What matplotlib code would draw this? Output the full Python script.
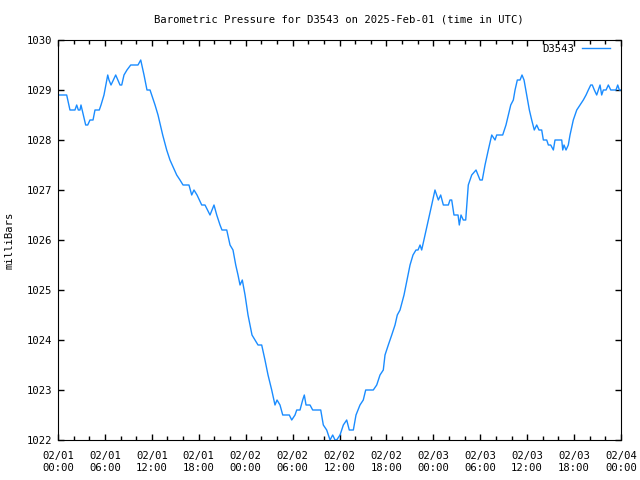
import datetime as dt
import matplotlib
matplotlib.use('Agg')
import matplotlib.pyplot as plt
from matplotlib.ticker import FuncFormatter, MultipleLocator

# hours since 2025-02-01 00:00 UTC, pressure in mbar
hours = [0, 1.11, 1.53, 2.17, 2.39, 2.6, 2.81, 2.94, 3.54, 3.8, 4.09, 4.48, 4.73, 5.28,
         5.5, 5.88, 6.23, 6.36, 6.52, 6.78, 7.38, 7.93, 8.15, 8.44, 8.82, 9.3, 10.23,
         10.58, 11.0, 11.38, 11.77, 12.41, 12.79, 13.39, 13.9, 14.32, 15.18, 15.6,
         15.99, 16.75, 17.1, 17.39, 17.78, 18.38, 18.8, 19.44, 19.95, 20.3, 20.72,
         20.97, 21.58, 22.0, 22.38, 22.73, 23.02, 23.28, 23.57, 23.92, 24.3, 24.56,
         24.81, 25.19, 25.58, 26.05, 26.47, 26.86, 27.33, 27.75, 28.01, 28.39, 28.74,
         29.58, 29.89, 30.31, 30.53, 30.95, 31.29, 31.5, 31.72, 32.23, 32.57, 33.6,
         33.93, 34.36, 34.79, 35.13, 35.43, 35.64, 36.07, 36.49, 36.92, 37.25, 37.77,
         38.11, 38.62, 39.04, 39.35, 40.32, 40.76, 41.18, 41.6, 41.82, 42.24, 42.68,
         43.1, 43.39, 43.74, 44.25, 44.63, 45.02, 45.4, 45.78, 46.04, 46.3, 46.51,
         46.94, 47.36, 47.79, 48.21, 48.64, 48.94, 49.28, 49.92, 50.13, 50.35, 50.64,
         50.99, 51.16, 51.32, 51.54, 51.83, 52.14, 52.47, 52.91, 53.46, 53.97, 54.26,
         54.61, 55.03, 55.47, 55.89, 56.1, 56.53, 56.87, 57.29, 57.59, 57.9, 58.23,
         58.45, 58.74, 59.09, 59.34, 59.6, 59.94, 60.28, 60.58, 60.91, 61.22, 61.51,
         61.86, 62.07, 62.5, 62.71, 63.01, 63.35, 63.56, 64.42, 64.55, 64.71, 64.97,
         65.26, 65.48, 65.9, 66.34, 66.76, 67.18, 67.53, 67.82, 68.13, 68.33, 68.59,
         68.89, 69.1, 69.32, 69.53, 69.74, 70.09, 70.38, 70.69, 71.36, 71.58, 71.79, 72.0]
pressure = [1028.9, 1028.9, 1028.6, 1028.6, 1028.7, 1028.6, 1028.6, 1028.7, 1028.3, 1028.3,
            1028.4, 1028.4, 1028.6, 1028.6, 1028.7, 1028.9, 1029.2, 1029.3, 1029.2, 1029.1,
            1029.3, 1029.1, 1029.1, 1029.3, 1029.4, 1029.5, 1029.5, 1029.6, 1029.3, 1029.0,
            1029.0, 1028.7, 1028.5, 1028.1, 1027.8, 1027.6, 1027.3, 1027.2, 1027.1, 1027.1,
            1026.9, 1027.0, 1026.9, 1026.7, 1026.7, 1026.5, 1026.7, 1026.5, 1026.3, 1026.2,
            1026.2, 1025.9, 1025.8, 1025.5, 1025.3, 1025.1, 1025.2, 1024.9, 1024.5, 1024.3,
            1024.1, 1024.0, 1023.9, 1023.9, 1023.6, 1023.3, 1023.0, 1022.7, 1022.8, 1022.7,
            1022.5, 1022.5, 1022.4, 1022.5, 1022.6, 1022.6, 1022.8, 1022.9, 1022.7, 1022.7,
            1022.6, 1022.6, 1022.3, 1022.2, 1022.0, 1022.1, 1022.0, 1022.0, 1022.1, 1022.3,
            1022.4, 1022.2, 1022.2, 1022.5, 1022.7, 1022.8, 1023.0, 1023.0, 1023.1, 1023.3,
            1023.4, 1023.7, 1023.9, 1024.1, 1024.3, 1024.5, 1024.6, 1024.9, 1025.2, 1025.5,
            1025.7, 1025.8, 1025.8, 1025.9, 1025.8, 1026.1, 1026.4, 1026.7, 1027.0, 1026.8,
            1026.9, 1026.7, 1026.7, 1026.8, 1026.8, 1026.5, 1026.5, 1026.5, 1026.3, 1026.5,
            1026.4, 1026.4, 1027.1, 1027.3, 1027.4, 1027.2, 1027.2, 1027.5, 1027.8, 1028.1,
            1028.0, 1028.1, 1028.1, 1028.1, 1028.3, 1028.5, 1028.7, 1028.8, 1029.0, 1029.2,
            1029.2, 1029.3, 1029.2, 1028.9, 1028.6, 1028.4, 1028.2, 1028.3, 1028.2, 1028.2,
            1028.0, 1028.0, 1027.9, 1027.9, 1027.8, 1028.0, 1028.0, 1027.8, 1027.9, 1027.8,
            1027.9, 1028.1, 1028.4, 1028.6, 1028.7, 1028.8, 1028.9, 1029.0, 1029.1, 1029.1,
            1029.0, 1028.9, 1029.0, 1029.1, 1028.9, 1029.0, 1029.0, 1029.1, 1029.0, 1029.0,
            1029.1, 1029.0, 1029.0]

start = dt.datetime(2025, 2, 1, 0, 0)
font = 'DejaVu Sans Mono'
fs = 7.6

fig = plt.figure(figsize=(6.4, 4.8), dpi=100)
ax = fig.add_axes([58 / 640, 40 / 480, 563 / 640, 400 / 480])
ax.plot(hours, pressure, color='#1a8cff', lw=1.0, label='D3543')

ax.set_xlim(0, 72)
ax.set_ylim(1022, 1030)
ax.xaxis.set_major_locator(MultipleLocator(6))
ax.xaxis.set_minor_locator(MultipleLocator(2))
ax.yaxis.set_major_locator(MultipleLocator(1))


def fmt_time(h, pos):
    t = start + dt.timedelta(hours=h)
    return t.strftime('%m/%d\n%H:%M')


ax.xaxis.set_major_formatter(FuncFormatter(fmt_time))
ax.yaxis.set_major_formatter(FuncFormatter(lambda v, p: '%d' % v))
ax.tick_params(which='both', direction='in', top=True, right=True, width=1)
ax.tick_params(axis='x', pad=8)
ax.tick_params(axis='y', pad=4.5)
ax.tick_params(which='major', length=4)
ax.tick_params(which='minor', length=3)
for lab in ax.get_xticklabels() + ax.get_yticklabels():
    lab.set_family(font)
    lab.set_fontsize(fs)
    lab.set_linespacing(1.2)

fig.text(339 / 640, 1 - 19 / 480, 'Barometric Pressure for D3543 on 2025-Feb-01 (time in UTC)',
         family=font, fontsize=fs, ha='center', va='center')
fig.text(10 / 640, 0.5, 'milliBars', family=font, fontsize=fs,
         rotation=90, ha='center', va='center')

leg = ax.legend(loc='upper right', frameon=False, markerfirst=False,
                handlelength=2.7, prop={'family': font, 'size': fs},
                borderaxespad=0, borderpad=0, handletextpad=0.7,
                bbox_to_anchor=(1 - 11 / 563, 1 - 4 / 400))

fig.savefig('out.png', dpi=100)
